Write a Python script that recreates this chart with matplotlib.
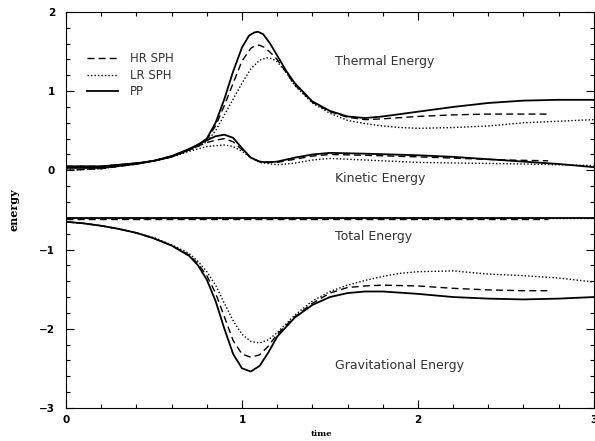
import matplotlib
matplotlib.use("Agg")
import matplotlib.pyplot as plt
from matplotlib.ticker import MultipleLocator

# values
t_pp = [0.0, 0.2, 0.4, 0.5, 0.6, 0.7, 0.75, 0.8, 0.85, 0.9, 0.95, 1.0, 1.04, 1.07, 1.09, 1.12,
        1.16, 1.2, 1.25, 1.3, 1.4, 1.5, 1.6, 1.7, 1.8, 2.0, 2.2, 2.4, 2.6, 2.8, 3.0]
thermal_pp = [0.03, 0.03, 0.08, 0.12, 0.17, 0.26, 0.32, 0.40, 0.60, 0.90, 1.25, 1.55, 1.70,
              1.74, 1.75, 1.72, 1.60, 1.45, 1.26, 1.10, 0.87, 0.75, 0.68, 0.66, 0.68, 0.74,
              0.80, 0.85, 0.88, 0.89, 0.89]

t_hr = [0.0, 0.2, 0.4, 0.5, 0.6, 0.7, 0.75, 0.8, 0.85, 0.9, 0.95, 1.0, 1.05, 1.08, 1.1, 1.13,
        1.16, 1.2, 1.25, 1.3, 1.4, 1.5, 1.6, 1.7, 1.8, 2.0, 2.2, 2.4, 2.6, 2.74]
thermal_hr = [0.0, 0.02, 0.08, 0.12, 0.17, 0.26, 0.32, 0.39, 0.56, 0.82, 1.10, 1.38, 1.54,
              1.58, 1.58, 1.55, 1.49, 1.40, 1.24, 1.08, 0.86, 0.74, 0.67, 0.64, 0.65, 0.68,
              0.70, 0.71, 0.71, 0.71]

t_lr = [0.0, 0.2, 0.4, 0.5, 0.6, 0.7, 0.75, 0.8, 0.85, 0.9, 0.95, 1.0, 1.05, 1.1, 1.14, 1.17,
        1.2, 1.25, 1.3, 1.4, 1.5, 1.6, 1.7, 1.8, 1.9, 2.0, 2.2, 2.4, 2.6, 2.8, 3.0]
thermal_lr = [0.0, 0.02, 0.08, 0.12, 0.17, 0.25, 0.30, 0.36, 0.50, 0.70, 0.90, 1.10, 1.28,
              1.39, 1.42, 1.41, 1.37, 1.24, 1.07, 0.85, 0.72, 0.63, 0.59, 0.56, 0.54, 0.53,
              0.54, 0.56, 0.60, 0.62, 0.64]

t_kin = [0.0, 0.2, 0.4, 0.5, 0.6, 0.7, 0.8, 0.85, 0.9, 0.95, 1.0, 1.05, 1.1, 1.15, 1.2,
         1.3, 1.4, 1.5, 1.7, 2.0, 2.2, 2.4, 2.6, 2.8, 3.0]
kinetic_pp = [0.05, 0.05, 0.09, 0.12, 0.18, 0.27, 0.38, 0.43, 0.45, 0.41, 0.28, 0.16, 0.11,
              0.10, 0.11, 0.16, 0.20, 0.22, 0.21, 0.19, 0.17, 0.14, 0.11, 0.08, 0.04]
t_kin_hr = [0.0, 0.2, 0.4, 0.5, 0.6, 0.7, 0.8, 0.85, 0.9, 0.95, 1.0, 1.05, 1.1, 1.2,
            1.3, 1.4, 1.5, 1.7, 2.0, 2.25, 2.5, 2.74]
kinetic_hr = [0.05, 0.05, 0.09, 0.12, 0.18, 0.26, 0.35, 0.38, 0.40, 0.36, 0.26, 0.16, 0.11,
              0.10, 0.14, 0.18, 0.20, 0.19, 0.17, 0.15, 0.13, 0.12]
t_kin_lr = [0.0, 0.2, 0.4, 0.5, 0.6, 0.7, 0.8, 0.85, 0.9, 0.95, 1.0, 1.05, 1.1, 1.2,
            1.3, 1.4, 1.5, 1.7, 2.0, 2.3, 2.6, 3.0]
kinetic_lr = [0.05, 0.05, 0.09, 0.12, 0.17, 0.24, 0.30, 0.31, 0.32, 0.30, 0.24, 0.16, 0.10,
              0.07, 0.09, 0.13, 0.15, 0.13, 0.10, 0.09, 0.08, 0.06]

t_grav = [0.0, 0.1, 0.2, 0.3, 0.4, 0.5, 0.6, 0.7, 0.75, 0.8, 0.85, 0.9, 0.95, 1.0, 1.05, 1.1,
          1.15, 1.2, 1.3, 1.4, 1.5, 1.6, 1.7, 1.8, 2.0, 2.2, 2.4, 2.6, 2.8, 3.0]
grav_pp = [-0.65, -0.67, -0.70, -0.74, -0.79, -0.86, -0.95, -1.08, -1.20, -1.38, -1.65, -2.00,
           -2.32, -2.50, -2.54, -2.47, -2.30, -2.10, -1.86, -1.70, -1.60, -1.55, -1.53, -1.53,
           -1.56, -1.60, -1.62, -1.63, -1.62, -1.60]
t_grav_hr = [0.0, 0.1, 0.2, 0.3, 0.4, 0.5, 0.6, 0.7, 0.75, 0.8, 0.85, 0.9, 0.95, 1.0, 1.05,
             1.1, 1.15, 1.2, 1.3, 1.4, 1.5, 1.6, 1.7, 1.8, 2.0, 2.2, 2.4, 2.6, 2.74]
grav_hr = [-0.65, -0.67, -0.70, -0.74, -0.79, -0.86, -0.95, -1.07, -1.18, -1.33, -1.55, -1.85,
           -2.15, -2.32, -2.36, -2.33, -2.22, -2.07, -1.85, -1.68, -1.55, -1.48, -1.46, -1.45,
           -1.46, -1.49, -1.51, -1.52, -1.52]
t_grav_lr = [0.0, 0.1, 0.2, 0.3, 0.4, 0.5, 0.6, 0.7, 0.75, 0.8, 0.85, 0.9, 0.95, 1.0, 1.05,
             1.1, 1.15, 1.2, 1.3, 1.4, 1.5, 1.6, 1.7, 1.8, 1.9, 2.0, 2.2, 2.4, 2.6, 2.8, 3.0]
grav_lr = [-0.65, -0.67, -0.70, -0.74, -0.79, -0.85, -0.94, -1.05, -1.15, -1.28, -1.45, -1.68,
           -1.90, -2.07, -2.16, -2.18, -2.14, -2.05, -1.83, -1.65, -1.53, -1.45, -1.39, -1.34,
           -1.30, -1.28, -1.27, -1.31, -1.33, -1.36, -1.41]

t_total = [0.0, 1.0, 2.0, 3.0]
total_pp = [-0.60, -0.60, -0.60, -0.60]
t_total_hr = [0.0, 1.0, 2.0, 2.74]
total_hr = [-0.61, -0.61, -0.61, -0.61]
total_lr = [-0.60, -0.60, -0.60, -0.60]

hr_style = dict(color="black", lw=1.0, ls=(0, (5, 3)))
lr_style = dict(color="black", lw=1.0, ls=(0, (1, 1.5)))
pp_style = dict(color="black", lw=1.3, ls="-")

fig = plt.figure(figsize=(5.95, 4.41), dpi=100)
ax = fig.add_axes([0.111, 0.075, 0.887, 0.898])

ax.plot(t_hr, thermal_hr, label="HR SPH", **hr_style)
ax.plot(t_lr, thermal_lr, label="LR SPH", **lr_style)
ax.plot(t_pp, thermal_pp, label="PP", **pp_style)

ax.plot(t_kin_hr, kinetic_hr, **hr_style)
ax.plot(t_kin_lr, kinetic_lr, **lr_style)
ax.plot(t_kin, kinetic_pp, **pp_style)

ax.plot(t_grav_hr, grav_hr, **hr_style)
ax.plot(t_grav_lr, grav_lr, **lr_style)
ax.plot(t_grav, grav_pp, **pp_style)

ax.plot(t_total_hr, total_hr, **hr_style)
ax.plot(t_total, total_lr, **lr_style)
ax.plot(t_total, total_pp, **pp_style)

ax.set_xlim(0, 3)
ax.set_ylim(-3, 2)
ax.xaxis.set_major_locator(MultipleLocator(1))
ax.xaxis.set_minor_locator(MultipleLocator(0.2))
ax.yaxis.set_major_locator(MultipleLocator(1))
ax.yaxis.set_minor_locator(MultipleLocator(0.2))
ax.tick_params(which="both", direction="in", top=True, right=True, width=0.8)
ax.tick_params(which="major", length=6, labelsize=7.5)
ax.tick_params(which="minor", length=3)
for lab in ax.get_xticklabels() + ax.get_yticklabels():
    lab.set_fontweight("bold")
ax.tick_params(axis="y", pad=8)
ax.tick_params(axis="x", pad=5)

ax.set_xlabel("time", fontsize=6, family="DejaVu Serif", fontweight="bold", labelpad=4)
ax.xaxis.set_label_coords(0.485, -0.055)
ax.set_ylabel("energy", fontsize=8, family="DejaVu Serif", fontweight="bold", labelpad=14)

txt = dict(fontsize=9, color="#333333", va="center")
ax.text(1.53, 1.38, "Thermal Energy", **txt)
ax.text(1.53, -0.1, "Kinetic Energy", **txt)
ax.text(1.53, -0.83, "Total Energy", **txt)
ax.text(1.53, -2.47, "Gravitational Energy", **txt)

leg = ax.legend(loc="upper left", bbox_to_anchor=(0.02, 0.925), frameon=False,
                fontsize=8.5, handlelength=2.6, handletextpad=1.0, labelspacing=0.3)
for t in leg.get_texts():
    t.set_color("#333333")

fig.savefig("out.png", dpi=100)
